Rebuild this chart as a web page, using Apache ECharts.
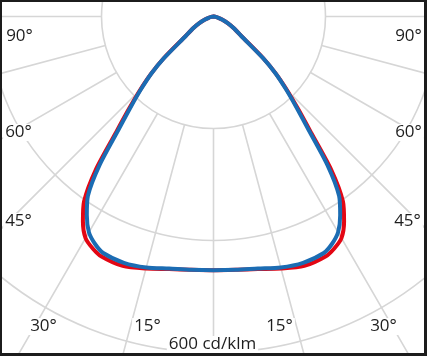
<!DOCTYPE html>
<html><head><meta charset="utf-8">
<script src="https://cdn.jsdelivr.net/npm/echarts@6/dist/echarts.min.js"></script>
<style>
html,body{margin:0;padding:0;background:#1c1c1c;width:427px;height:356px;overflow:hidden}
#chart{position:absolute;left:2px;top:2px;width:422px;height:351px;background:#fff}
</style></head><body><div id="chart"></div>
<script>
// Data (cd/klm) at emission angle gamma (deg from nadir), symmetric planes
const gammaDeg = [0, 5, 10, 15, 20, 25, 27.5, 30, 32.5, 35, 37.5, 40, 42.5, 45, 47.5, 50, 55, 60, 65, 70, 75, 80, 85, 90];
const planeRed  = [453, 454, 458, 466, 474, 473, 467, 457, 434, 403, 346, 272, 223, 185, 151, 116, 61, 42, 28, 17, 9, 4, 1, 0];
const planeBlue = [453, 454, 457, 464, 468, 466, 458, 445, 421, 391, 334, 264, 218, 182, 150, 115, 60, 42, 28, 17, 9, 4, 1, 0];
const ringValues = [200, 400, 600, 800];
const angleLabelsLeft = ['90°', '60°', '45°', '30°', '15°'];
const angleLabelsRight = ['90°', '60°', '45°', '30°', '15°'];
const scaleLabel = '600 cd/klm';

function loop(vals) {
  const out = [];
  for (let i = gammaDeg.length - 1; i >= 0; i--) out.push([vals[i], gammaDeg[i]]);
  for (let i = 1; i < gammaDeg.length; i++) out.push([vals[i], -gammaDeg[i]]);
  return out;
}

const C = [211.5, 14.5];
const gridColor = '#d6d6d6';
const font = '"Open Sans", "DejaVu Sans", sans-serif';

// label layout (div pixel coords)
const leftPos = [[17.5, 34.5], [16.5, 130.5], [16.5, 219.5], [41.5, 324.5], [145.5, 324.5]];
const rightPos = [[406.5, 34.5], [406.5, 130.5], [405.5, 219.5], [381.5, 324.5], [277.5, 324.5]];
const graphics = [];
function addText(t, p) {
  graphics.push({
    type: 'text', x: p[0], y: p[1], z: 100,
    style: { text: t, align: 'center', verticalAlign: 'middle', fill: '#1e1e1e',
      fontSize: 17, fontFamily: font, backgroundColor: '#fff', padding: [0, 2] }
  });
}
angleLabelsLeft.forEach((t, i) => addText(t, leftPos[i]));
angleLabelsRight.forEach((t, i) => addText(t, rightPos[i]));
addText(scaleLabel, [210.5, 342.5]);

const chart = echarts.init(document.getElementById('chart'), null, { renderer: 'canvas' });
const hidden = { show: false };
chart.setOption({
  animation: false,
  backgroundColor: '#fff',
  polar: [
    { center: C, radius: [112, 448] },
    { center: C, radius: [0, 336] }
  ],
  angleAxis: [
    { polarIndex: 0, type: 'value', min: -180, max: 180, interval: 15, startAngle: 90, clockwise: true,
      axisLine: hidden, axisTick: hidden, axisLabel: hidden,
      splitLine: { show: true, lineStyle: { color: gridColor, width: 1.6 } } },
    { polarIndex: 1, type: 'value', min: -180, max: 180, interval: 15, startAngle: 90, clockwise: true,
      axisLine: hidden, axisTick: hidden, axisLabel: hidden, splitLine: hidden }
  ],
  radiusAxis: [
    { polarIndex: 0, type: 'value', min: ringValues[0], max: ringValues[ringValues.length - 1], interval: 200,
      axisLine: hidden, axisTick: hidden, axisLabel: hidden,
      splitLine: { show: true, lineStyle: { color: gridColor, width: 1.6 } } },
    { polarIndex: 1, type: 'value', min: 0, max: 600,
      axisLine: hidden, axisTick: hidden, axisLabel: hidden, splitLine: hidden }
  ],
  series: [
    { type: 'line', coordinateSystem: 'polar', polarIndex: 1, data: loop(planeRed), showSymbol: false,
      smooth: 0.25, lineStyle: { color: '#e30613', width: 4, join: 'round', cap: 'round' }, z: 3 },
    { type: 'line', coordinateSystem: 'polar', polarIndex: 1, data: loop(planeBlue), showSymbol: false,
      smooth: 0.25, lineStyle: { color: '#1b6cb3', width: 4, join: 'round', cap: 'round' }, z: 4 }
  ],
  graphic: graphics
});
</script></body></html>
